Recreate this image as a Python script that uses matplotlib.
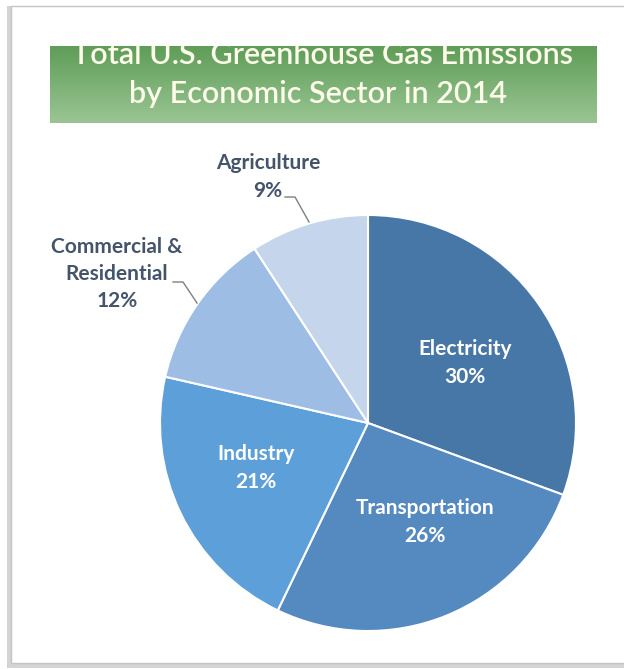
import numpy as np
import matplotlib
matplotlib.use("Agg")
import matplotlib.pyplot as plt
from matplotlib.patches import Rectangle
from matplotlib.colors import LinearSegmentedColormap

sectors = ["Electricity", "Transportation", "Industry", "Commercial &\nResidential", "Agriculture"]
shares = [30, 26, 21, 12, 9]
colors = ["#4677a6", "#558ac0", "#5d9fd8", "#9dbde4", "#c5d5ec"]
title_lines = ["Total U.S. Greenhouse Gas Emissions", "by Economic Sector in 2014"]

W, H = 624, 669
fig = plt.figure(figsize=(W / 100, H / 100), dpi=100)
fig.patch.set_facecolor("white")

def fx(px):
    return px / W

def fy(py):
    return 1 - py / H

# frame with shadow
fig.patches.append(Rectangle((fx(7), fy(668)), fx(700), 662 / H, transform=fig.transFigure,
                             facecolor="#d4d4d4", edgecolor="none", zorder=-10))
fig.patches.append(Rectangle((fx(11), fy(663)), fx(700), 657 / H, transform=fig.transFigure,
                             facecolor="white", edgecolor="#c4c4c4", lw=1.0, zorder=-9))

FONT = "Lato"
TXT = "#44546a"

# title banner
bx0, bx1, by0, by1 = 50, 597, 46, 123
bax = fig.add_axes([fx(bx0), fy(by1), fx(bx1 - bx0), (by1 - by0) / H])
cmap = LinearSegmentedColormap.from_list("g", ["#5f9d58", "#9ac593"])
grad = np.linspace(0, 1, 100).reshape(-1, 1)
bax.imshow(grad, cmap=cmap, aspect="auto", extent=[0, bx1 - bx0, by1 - by0, 0])
bax.set_xlim(0, bx1 - bx0)
bax.set_ylim(by1 - by0, 0)
bax.axis("off")
bax.text(323 - bx0, 17.5, title_lines[0], ha="center", va="baseline", fontsize=22,
         family=FONT, fontweight="semibold", color="#fdfbea", clip_on=True)
bax.text(318 - bx0, 57, title_lines[1], ha="center", va="baseline", fontsize=22,
         family=FONT, fontweight="semibold", color="#fdfbea", clip_on=True)

# pie
pcx, pcy, r = 368, 423, 208
ax = fig.add_axes([fx(pcx - r), fy(pcy + r), fx(2 * r), 2 * r / H])
wedges, _ = ax.pie(shares, colors=colors, startangle=90, counterclock=False, radius=1,
                   wedgeprops=dict(edgecolor="white", linewidth=1.5))
ax.set_xlim(-1, 1)
ax.set_ylim(-1, 1)
ax.set_aspect("auto")
ax.axis("off")

def d(px, py):
    return ((px - pcx) / r, -(py - pcy) / r)

fs = 15
LS = 1.55
inside = [(465, 363), (425, 522), (256, 468)]
for i, (px, py) in enumerate(inside):
    x, y = d(px, py)
    ax.text(x, y, f"{sectors[i]}\n{shares[i]}%", ha="center", va="center", fontsize=fs,
            family=FONT, fontweight="bold", color="white", linespacing=LS)

# outside labels
x, y = d(268, 177)
ax.text(x, y, f"{sectors[4]}\n{shares[4]}%", ha="center", va="center", fontsize=fs,
        family=FONT, fontweight="bold", color=TXT, linespacing=1.45, clip_on=False)
x, y = d(117, 274)
ax.text(x, y, f"{sectors[3]}\n{shares[3]}%", ha="center", va="center", fontsize=fs,
        family=FONT, fontweight="bold", color=TXT, linespacing=1.45, clip_on=False)

# leader lines
for pts in ([(285, 197), (295, 197), (309, 222)], [(173, 282), (183, 282), (197, 303)]):
    xs, ys = zip(*[d(*p) for p in pts])
    ax.plot(xs, ys, color="#7f7f7f", lw=1.0, clip_on=False)

fig.savefig("out.png", dpi=100, facecolor="white")
